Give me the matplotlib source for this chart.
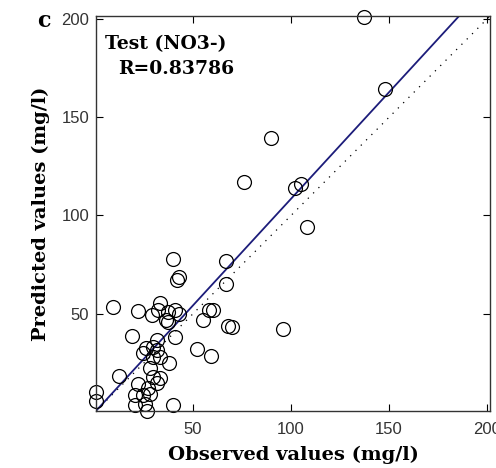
import numpy as np
import matplotlib.pyplot as plt

# observed / predicted values (mg/l)
observed = [137, 148, 90, 76, 102, 105, 108, 96, 67, 67, 58, 60, 55, 68, 70, 52, 59,
            43, 42, 40, 9, 22, 33, 29, 32, 37, 41, 36, 37, 43, 41, 19, 26, 24.5,
            31.5, 29.5, 38, 12, 28, 29.5, 33, 31.5, 22, 20.5, 24.5, 28, 27, 20.5,
            25.5, 26.5, 40, 0.5, 0.5, 31.5, 29.5, 33]
predicted = [201, 164.5, 139.5, 117, 114, 116, 94, 42, 77, 65, 52, 52, 47, 44, 43, 32, 28.5,
             68.5, 67, 78, 53.5, 51.5, 55.5, 49.5, 52, 51, 52, 47, 46, 50, 38, 38.5, 32.5, 30,
             31.5, 28, 25, 18.5, 22.5, 18, 17.5, 15, 14, 8.5, 8.5, 9, 12, 3.5,
             4, 0.5, 3.5, 10, 5.5, 36.5, 33, 28]
fit_slope = 1.085
fit_intercept = 0.0
r_value = 0.83786

serif = 'DejaVu Serif'

fig = plt.figure(figsize=(4.96, 4.68), dpi=100)
ax = fig.add_axes([0.1935, 0.1218, 0.7945, 0.844])

lo, hi = 0.5, 201.5
xs = np.array([lo, hi])
ax.plot(xs, xs, linestyle=(0, (1, 5)), color='black', linewidth=0.9)
ax.plot(xs, fit_slope * xs + fit_intercept, color='#1c1c7a', linewidth=1.3)
ax.plot(observed, predicted, 'o', markerfacecolor='none', markeredgecolor='black',
        markersize=10, markeredgewidth=0.9, clip_on=False)

ax.set_xlim(lo, hi)
ax.set_ylim(lo, hi)
ax.set_xticks([50, 100, 150, 200])
ax.set_yticks([50, 100, 150, 200])
ax.tick_params(direction='in', top=True, right=True, length=5,
               labelsize=12, labelcolor='#333333')
ax.tick_params(axis='x', pad=8)
ax.tick_params(axis='y', pad=5)
for lab in ax.get_xticklabels() + ax.get_yticklabels():
    lab.set_family('Liberation Sans')
for s in ax.spines.values():
    s.set_linewidth(1.0)
    s.set_color('#333333')

ax.set_xlabel('Observed values (mg/l)', family=serif, weight='bold', fontsize=14, labelpad=6)
ax.set_ylabel('Predicted values (mg/l)', family=serif, weight='bold', fontsize=14, labelpad=8)

ax.text(0.023, 0.9165, 'Test (NO3-)', transform=ax.transAxes,
        family=serif, weight='bold', fontsize=13.5, va='baseline', ha='left')
ax.text(0.056, 0.853, 'R=%.5f' % r_value, transform=ax.transAxes,
        family=serif, weight='bold', fontsize=13.5, va='baseline', ha='left')
fig.text(0.075, 0.955, 'c', family=serif, weight='bold', fontsize=16,
         va='center', ha='left')

fig.savefig('out.png', dpi=100)
